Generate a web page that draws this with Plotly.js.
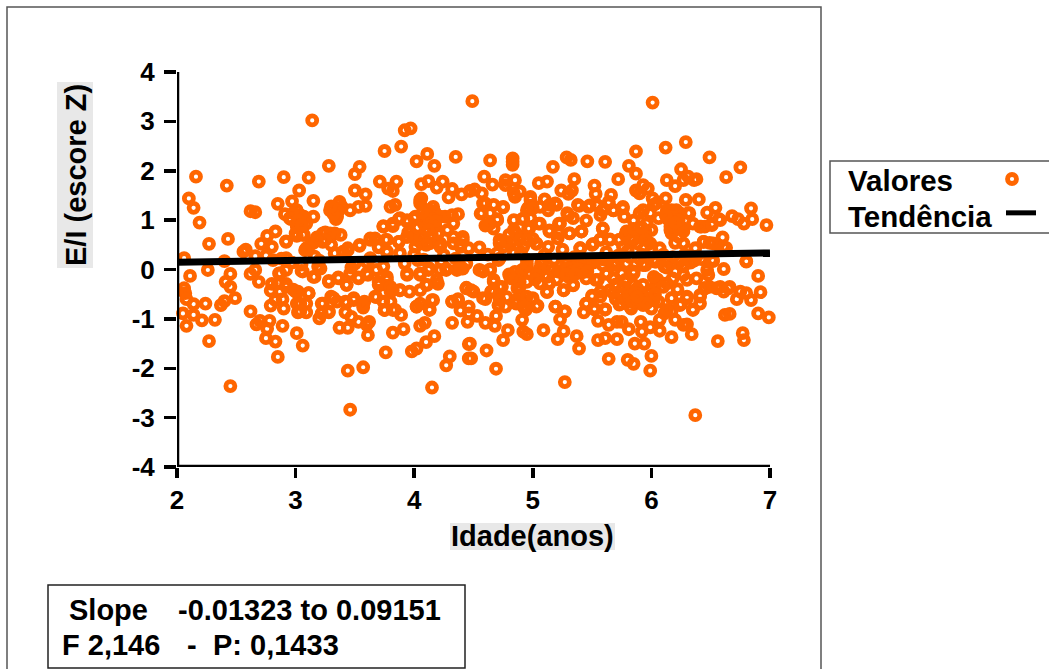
<!DOCTYPE html>
<html><head><meta charset="utf-8">
<script src="https://cdn.plot.ly/plotly-3.0.1.min.js"></script>
<style>html,body{margin:0;padding:0;background:#fff;overflow:hidden}#c{width:1049px;height:669px}</style>
</head><body><div id="c"></div>
<script>
const agesUpperLeft=[2.16,2.10,2.14,2.19,2.27,2.43,2.42,2.69,3.14,2.90,3.11,3.03,3.28,3.54,3.50,3.50,3.59,3.75,3.89,3.92,3.97,4.02,4.11,4.17,4.35,3.71,3.85,3.78,3.82,4.06,4.12,4.19,4.24,4.32,4.29,4.40,4.47,3.15,2.97,2.85,2.62,2.66,3.30,3.37,3.39,3.46,3.53,3.59,3.80,3.84,4.06,4.05,4.16,2.91,2.96,3.01,3.07,3.15,3.01,3.09,3.34,3.74,3.82,3.87,3.94,4.01,4.09,4.18,4.26,4.32,4.37,4.33,2.83,2.76,2.71,2.80,2.92,3.01,3.07,3.18,3.25,3.23,3.33,3.38,3.30,3.63,3.67,3.76,3.54,3.44,3.70,3.87,3.94,4.02,4.20,4.22,4.13,4.06,4.41,4.33,4.39,3.09,3.15,2.56,2.58,2.66,2.75,2.06,2.40,2.92,2.81,3.16,3.33,3.40,3.63,3.77,3.88,4.03,4.25,4.46,4.10,4.15,4.28,3.95,4.00,3.60,3.50,3.20,3.05,2.88,2.97,3.92,4.08,4.23,4.35,4.44];
const scoresUpperLeft=[1.88,1.44,1.25,0.95,0.52,0.62,1.70,1.78,3.02,1.87,1.86,1.60,2.10,2.08,1.93,1.60,1.52,2.40,2.49,2.82,2.86,2.19,2.34,2.10,2.28,1.78,1.78,1.64,1.59,1.73,1.79,1.66,1.78,1.63,1.46,1.52,1.59,1.39,1.38,1.33,1.18,1.16,1.24,1.37,1.27,1.20,1.27,1.29,1.27,1.31,1.44,1.34,1.27,1.12,1.02,0.90,0.70,1.07,1.20,0.93,1.02,0.88,0.88,1.02,0.97,1.07,0.93,0.88,1.07,1.10,1.12,0.93,0.77,0.68,0.52,0.46,0.57,0.68,1.07,0.65,0.75,0.56,0.73,0.70,0.50,0.63,0.63,0.60,0.48,0.43,0.45,0.56,0.66,0.60,0.73,0.53,0.53,0.53,0.66,0.53,0.50,0.43,0.54,0.36,0.40,0.27,0.28,0.23,0.17,0.23,0.19,0.26,0.33,0.36,0.23,0.36,0.33,0.19,0.29,0.43,0.78,0.70,0.80,0.75,0.30,0.15,0.12,0.18,0.10,0.22,0.14,0.12,0.20,0.15,0.22,0.12];
const agesUpperRight=[4.49,6.01,6.29,6.12,5.87,6.49,6.75,6.63,5.61,5.46,5.285,5.32,5.17,4.83,4.83,4.83,4.64,4.59,4.66,4.51,4.57,4.77,4.77,4.85,5.05,5.12,5.35,5.24,5.30,5.33,5.52,5.53,5.66,5.72,5.81,5.87,5.93,5.97,5.87,5.90,6.13,6.20,6.25,6.27,6.31,6.38,6.36,6.01,6.12,6.29,6.40,6.54,6.47,6.84,6.68,6.73,6.85,6.78,6.97,6.57,6.51,6.41,6.45,6.60,6.44,6.49,6.56,6.63,6.80,6.52,6.42,4.85,4.89,4.84,4.75,4.60,4.67,4.56,4.70,4.60,4.64,4.67,4.96,4.98,5.10,5.19,5.13,5.06,5.29,5.34,5.39,5.48,5.54,5.45,5.57,5.64,5.68,5.76,5.77,5.85,5.93,5.99,6.04,6.06,6.17,6.24,6.32,6.16,6.27,6.23,4.84,4.91,4.98,5.05,4.97,4.84,4.72,4.82,4.89,5.03,5.14,5.22,5.21,5.31,5.41,5.59,5.51,5.57,5.65,5.79,5.73,5.85,5.95,5.99,6.20,6.27,6.37,6.07,4.55,5.40,5.13,4.75,4.92,4.71,6.03,5.93,5.50,4.80,4.90,5.00,5.10,5.25,5.35,5.45,5.62,5.72,5.80,5.90,6.00,6.10,6.18,6.28,6.36,4.62,4.72,4.95,5.08,5.18,5.28,5.38,5.48,5.60,5.70,5.82,5.92,6.02,6.14,6.24,6.33];
const scoresUpperRight=[3.41,3.38,2.58,2.47,2.39,2.27,2.07,1.87,2.18,2.19,2.27,2.22,2.08,2.25,2.18,2.12,2.21,1.88,1.72,1.62,1.54,1.81,1.71,1.81,1.75,1.78,1.83,1.60,1.53,1.60,1.70,1.53,1.51,1.83,2.10,1.94,1.71,1.64,1.60,1.54,1.81,1.69,2.03,1.81,1.88,1.83,1.81,1.44,1.44,1.41,1.42,1.25,1.15,1.24,1.08,1.02,1.02,0.93,0.90,1.02,0.93,0.87,0.87,0.65,0.56,0.54,0.50,0.44,0.17,0.19,0.21,1.47,1.58,1.54,1.26,1.34,1.31,1.13,1.02,0.89,0.93,0.83,1.25,1.47,1.42,1.34,1.20,1.27,1.14,1.04,1.29,1.30,1.30,0.99,1.10,1.34,1.20,1.27,1.07,0.99,1.20,1.14,1.34,1.04,1.20,1.14,1.14,0.80,0.83,0.66,1.00,1.02,1.04,0.93,0.83,0.80,0.60,0.56,0.66,0.52,0.79,0.93,0.63,0.73,0.77,0.83,0.52,0.61,0.61,0.77,0.60,0.60,0.77,0.53,0.54,0.53,0.43,0.43,0.45,0.43,0.46,0.46,0.46,0.19,0.17,0.11,0.15,0.70,0.35,0.62,0.30,0.40,0.25,0.18,0.35,0.28,0.38,0.22,0.42,0.30,0.25,0.30,0.18,0.30,0.22,0.20,0.12,0.20,0.12,0.22,0.12,0.20,0.14,0.25,0.30,0.20,0.16,0.16,0.14];
const agesLowerLeft=[2.11,2.26,2.06,2.07,2.08,2.14,2.24,2.05,2.14,2.21,2.32,2.08,2.27,2.45,2.41,2.45,2.49,2.40,2.37,2.45,2.62,2.62,2.66,2.69,2.80,2.79,2.86,2.85,2.92,2.87,2.83,2.89,2.79,2.90,2.67,2.70,2.78,2.76,2.89,2.75,2.83,2.85,3.01,3.06,3.06,3.16,3.28,3.36,3.43,3.19,2.98,3.02,3.11,3.01,3.09,3.02,3.09,3.23,3.28,3.22,3.20,3.30,3.35,3.43,3.49,3.42,3.47,3.37,3.44,3.53,3.62,3.60,3.61,3.58,3.57,3.44,3.57,3.46,4.15,3.76,3.82,3.91,3.98,4.02,4.10,4.17,4.05,4.09,4.13,4.16,4.02,4.05,3.89,3.82,3.75,3.68,3.80,3.74,3.88,3.96,4.11,4.20,3.94,4.05,3.53,3.46,3.61,3.70,3.77,3.80,4.32,4.37,4.39,4.46,4.45,4.32,4.46,4.46,4.30,4.27,4.44,4.36,4.22,4.13,4.27,4.41];
const scoresLowerLeft=[-0.13,-0.01,-0.38,-0.48,-0.60,-0.70,-0.69,-0.89,-0.92,-1.03,-1.02,-1.14,-1.45,-0.09,-0.25,-0.35,-0.58,-0.64,-0.72,-2.36,-0.85,-0.09,-0.01,-0.25,-0.29,-0.43,-0.08,-0.28,-0.29,-0.45,-0.62,-0.60,-0.73,-0.79,-1.11,-1.04,-1.04,-1.20,-1.14,-1.39,-1.46,-1.77,-1.29,-1.54,-0.04,-0.15,-0.25,-0.18,-0.31,0.06,-0.41,-0.45,-0.48,-0.69,-0.69,-0.87,-0.87,-0.69,-0.87,-0.89,-0.99,-0.55,-0.65,-0.67,-0.62,-0.87,-0.96,-1.18,-1.18,-1.06,-1.06,-1.12,-1.33,-0.65,-0.77,-2.05,-1.98,-2.84,-2.39,-1.68,-1.28,-1.21,-1.66,-1.60,-1.47,-1.35,-1.14,-1.08,-0.81,-0.62,-0.75,-0.69,-0.92,-0.82,-0.82,-0.56,-0.65,-0.48,-0.42,-0.45,-0.31,-0.29,-0.11,-0.11,-0.16,-0.08,-0.11,-0.25,-0.21,-0.45,-0.65,-0.60,-0.83,-0.89,-1.06,-1.08,-1.51,-1.80,-1.76,-1.94,-0.37,-0.01,-0.01,0.02,0.02,0.02];
const agesLowerRight=[6.37,5.27,4.69,5.99,6.00,5.85,5.80,5.64,5.39,5.37,5.21,5.26,5.09,4.95,4.92,4.75,4.79,4.61,4.48,4.47,4.68,4.60,4.53,4.69,4.91,4.60,4.50,4.65,4.67,4.74,4.71,4.71,4.78,4.87,4.81,4.89,4.58,4.64,5.03,5.14,5.12,5.26,5.34,4.86,4.92,4.99,5.04,4.94,5.19,5.27,5.23,5.45,5.50,5.57,5.43,5.52,5.61,5.55,5.64,5.71,5.75,5.81,5.91,5.92,5.99,6.07,6.07,6.11,6.17,6.20,6.30,6.27,6.34,6.17,5.55,5.61,5.71,5.86,5.94,6.56,6.77,6.78,6.62,6.66,6.90,6.99,6.92,6.90,6.61,6.84,6.72,6.75,6.80,6.66,6.61,6.55,6.45,6.48,6.41,6.41,6.35,6.30,6.25,6.17,6.06,6.00,5.92,5.83,5.73,5.68,5.79,5.86,5.99,6.13,6.04,5.93,5.85,5.78,5.68,5.62,5.53,5.75,5.85,5.93,6.04,6.13,6.20,6.27,6.27,6.38,6.52,6.80,5.31,5.40,5.21,4.95,5.07,5.51,5.59,5.68,5.79,5.10,5.20,5.30,5.45,5.70,5.90,6.05,6.22];
const scoresLowerRight=[-2.95,-2.28,-2.01,-2.05,-1.75,-1.91,-1.83,-1.81,-1.60,-1.35,-1.41,-1.25,-1.23,-1.31,-1.26,-1.43,-1.23,-1.64,-1.80,-1.50,-1.14,-1.08,-0.94,-0.94,-1.02,-0.60,-0.45,-0.45,-0.25,-0.35,-0.52,-0.72,-0.56,-0.38,-0.15,-0.25,-0.04,0.00,-0.09,-0.27,-0.46,-0.42,-0.31,-0.69,-0.62,-0.60,-0.73,-0.82,-0.75,-0.85,-1.01,-0.69,-0.53,-0.45,-0.87,-0.81,-0.81,-1.04,-1.12,-1.06,-1.06,-1.21,-1.06,-1.26,-1.17,-1.24,-1.02,-0.89,-0.85,-1.02,-1.11,-1.12,-1.31,-1.37,-1.43,-1.39,-1.41,-1.50,-1.50,-1.45,-1.29,-1.43,-0.92,-0.90,-0.89,-0.97,-0.46,-0.13,0.01,-0.62,-0.60,-0.45,-0.48,-0.35,-0.45,-0.38,-0.38,-0.11,-0.55,-0.69,-0.81,-0.55,-0.70,-0.58,-0.65,-0.79,-0.69,-0.79,-0.71,-0.48,-0.55,-0.55,-0.48,-0.28,-0.28,-0.31,-0.31,-0.25,-0.18,-0.09,-0.21,-0.08,-0.04,0.09,0.16,0.04,-0.04,0.09,-0.11,-0.18,0.17,0.16,-0.01,-0.04,-0.04,0.06,0.12,0.14,0.09,0.09,0.12,-0.12,-0.20,-0.15,-0.18,-0.30,-0.45,-0.20,-0.40];
const agesCoreA=[3.37,3.35,3.29,3.04,2.98,3.08,2.95,3.01,3.06,3.00,2.92,3.23,3.29,3.25,3.18,3.11,3.08,3.33,3.44,3.54,3.63,3.70,3.77,3.77,4.05,4.12,4.17,4.08,4.13,4.22,4.00,3.94,3.88,3.74,3.82,3.87,3.94,4.05,4.10,4.22,4.20,4.01,4.33,4.41,4.39,4.57,4.64,4.70,4.62,4.75,4.58,4.72,4.78,4.86,4.92,4.89,4.70,4.84];
const scoresCoreA=[1.34,1.07,1.20,1.10,1.14,1.04,1.04,0.87,0.70,0.73,0.56,0.73,0.73,0.60,0.60,0.46,0.39,0.33,0.39,0.50,0.60,0.46,0.36,0.60,1.41,1.20,1.17,0.93,0.93,1.07,1.04,1.00,1.04,0.87,0.93,0.56,0.66,0.66,0.50,0.46,0.73,0.46,0.66,0.60,0.46,1.14,1.14,1.00,0.90,1.27,1.34,0.53,0.56,0.73,1.03,0.60,0.33,0.33];
const agesCoreB=[2.92,2.87,3.05,3.15,3.21,3.28,3.36,3.43,3.53,3.47,3.60,3.68,3.74,3.77,3.70,3.80,3.88,3.94,4.05,4.12,4.19,4.27,4.39,4.55,4.64,4.67,4.81,4.91,4.89,4.67,4.72,4.44,4.48,2.92,3.00,3.11,3.04,3.04,3.22,3.28,3.32,3.42,3.49,3.57,3.67,3.74,3.82,3.75,3.84,4.02,4.13,4.15,4.05,4.10,4.32,4.37,4.46,4.58,4.65,4.72,4.86,4.92,4.77];
const scoresCoreB=[-0.01,-0.08,-0.03,-0.15,0.02,-0.23,-0.16,-0.31,-0.18,0.04,-0.08,-0.01,0.06,-0.15,-0.31,-0.35,-0.42,-0.08,-0.08,-0.01,-0.21,-0.01,0.02,-0.01,-0.01,-0.21,-0.15,-0.01,-0.35,-0.45,-0.35,-0.38,-0.42,-0.35,-0.45,-0.48,-0.69,-0.85,-0.69,-0.85,-0.58,-0.65,-0.58,-0.72,-0.55,-0.65,-0.42,-0.82,-0.82,-0.75,-0.82,-0.62,-0.42,-0.31,-0.65,-0.62,-0.75,-0.58,-0.45,-0.62,-0.62,-0.75,-0.75];
const agesCoreC=[4.98,4.95,5.00,5.14,5.20,5.30,5.23,5.06,4.96,5.14,5.31,5.41,5.22,5.03,4.95,5.40,5.50,5.57,5.65,5.73,5.81,5.88,5.95,6.00,5.88,5.76,5.68,5.76,5.90,5.96,6.02,6.13,6.21,6.31,6.16,6.24,6.17,6.27,6.35,6.42,6.51,6.58,6.44,6.52,6.61,5.59,5.59,5.54,5.38,5.47,5.64];
const scoresCoreC=[1.41,1.20,1.24,1.31,1.31,1.10,0.93,0.93,0.83,0.77,0.73,0.77,0.73,0.53,0.60,0.43,0.50,0.60,0.60,0.60,0.77,0.73,0.73,0.80,0.53,0.46,1.20,1.24,1.14,0.93,1.31,1.20,1.20,1.14,0.87,0.87,0.73,0.77,0.93,0.87,0.90,1.00,0.56,0.53,0.46,0.83,1.20,1.31,1.31,1.27,1.37];
const agesCoreD=[4.95,4.98,5.06,5.17,5.26,5.34,5.43,5.51,5.55,5.62,5.68,5.78,5.85,5.95,6.03,6.02,6.11,6.27,6.38,6.51,6.30,6.18,6.47,6.49,6.58,6.65,6.45,6.10,5.99,5.88,5.76,5.65,5.57,5.50,5.45,5.52,5.61,5.74,5.82,5.93,6.02,6.17,6.24,6.30,6.35,6.41,6.13,5.26,5.14,5.12,5.34,5.03,4.95,5.00,5.03,5.19,5.27,4.93];
const scoresCoreD=[0.12,-0.08,0.02,-0.01,-0.08,0.02,-0.01,0.16,-0.21,-0.08,-0.18,-0.21,-0.08,0.09,0.16,-0.15,0.06,0.06,0.26,0.19,-0.21,-0.18,-0.01,-0.35,-0.35,-0.38,-0.38,-0.35,-0.42,-0.38,-0.35,-0.42,-0.55,-0.55,-0.69,-0.79,-0.81,-0.69,-0.75,-0.72,-0.62,-0.58,-0.72,-0.58,-0.82,-0.52,-0.82,-0.42,-0.28,-0.45,-0.32,-0.11,-0.55,-0.58,-0.75,-0.75,-0.85,-0.75];
const agesCoreE=[5.75,5.80,5.86,5.92,5.97,6.03,5.78,5.84,5.90,5.96,5.70,5.88,5.24,5.29,5.33,5.38,5.42,5.46,5.28,5.36,5.84,5.90,5.95,5.78,5.85,5.92,6.14,6.19,6.23,6.12,6.20,4.10,4.15,4.07,4.18,4.03,4.12,3.36,3.32,3.30,3.02,3.05,4.85,4.88,4.82,4.80,4.95,5.02,5.06,5.12];
const scoresCoreE=[-0.50,-0.55,-0.48,-0.52,-0.60,-0.50,-0.62,-0.66,-0.62,-0.68,-0.60,-0.55,-0.03,0.03,-0.05,0.01,-0.06,-0.04,-0.10,-0.09,0.62,0.66,0.60,0.70,0.82,0.85,1.02,1.06,1.00,1.10,0.95,1.10,1.02,1.15,0.98,0.85,0.80,1.18,1.12,1.28,1.00,0.90,-0.05,-0.12,-0.18,-0.10,-0.25,-0.20,-0.28,-0.15];
const trendAges=[2,7];
const trendScores=[0.145,0.335];
const xTickValues=[2,3,4,5,6,7];
const yTickValues=[-4,-3,-2,-1,0,1,2,3,4];
const yTickLabels=['-4','-3','-2','-1','0','1','2','3','4'];

const W=1049,H=669,fam='"Liberation Sans",Arial,sans-serif',orange='#ff6600';
const px=v=>v/W, py=v=>1-v/H;
const rect=(x0,y0,x1,y1,opt)=>Object.assign({type:'rect',xref:'paper',yref:'paper',x0:px(x0),x1:px(x1),y0:py(y1),y1:py(y0),layer:'below'},opt);
const note=(x,y,text,size,opt)=>Object.assign({xref:'paper',yref:'paper',x:px(x),y:py(y),text,showarrow:false,xanchor:'left',yanchor:'middle',borderpad:0,font:{family:fam,size,color:'#000',weight:700}},opt||{});
const grayLine={line:{color:'#555',width:1.5},fillcolor:'rgba(0,0,0,0)'};
const regions=[[agesUpperLeft,scoresUpperLeft],[agesUpperRight,scoresUpperRight],[agesLowerLeft,scoresLowerLeft],[agesLowerRight,scoresLowerRight],[agesCoreA,scoresCoreA],[agesCoreB,scoresCoreB],[agesCoreC,scoresCoreC],[agesCoreD,scoresCoreD],[agesCoreE,scoresCoreE]];
const ages=[],scores=[];
regions.forEach(([a,s])=>{const n=Math.min(a.length,s.length);ages.push(...a.slice(0,n));scores.push(...s.slice(0,n));});
const ring={symbol:'circle-open',size:9,color:orange,line:{color:orange,width:4.8}};
const tickFont={family:fam,size:26,color:'#000',weight:700};
const axisBase={tickmode:'array',ticks:'outside',tickwidth:3.5,tickcolor:'#000',showline:false,showgrid:false,zeroline:false,tickfont:tickFont,automargin:false};
const axisLine=(x0,y0,x1,y1)=>({type:'line',xref:'x',yref:'y',x0,y0,x1,y1,layer:'above',line:{color:'#000',width:4.5}});
const data=[
 {type:'scatter',mode:'markers',name:'Valores',x:ages,y:scores,marker:ring,cliponaxis:false,hoverinfo:'x+y',showlegend:false},
 {type:'scatter',mode:'lines',name:'Tendência',x:trendAges,y:trendScores,line:{color:'#000',width:7},cliponaxis:false,showlegend:false},
 {type:'scatter',mode:'markers',x:[0.4],y:[0.75],xaxis:'x2',yaxis:'y2',marker:ring,showlegend:false,hoverinfo:'skip'},
 {type:'scatter',mode:'lines',x:[0.28,0.88],y:[0.28,0.28],xaxis:'x2',yaxis:'y2',line:{color:'#000',width:5},showlegend:false,hoverinfo:'skip'}
];
const layout={
 width:W,height:H,paper_bgcolor:'#fff',plot_bgcolor:'rgba(0,0,0,0)',showlegend:false,
 margin:{l:0,r:0,t:0,b:0,pad:0},
 font:{family:fam,color:'#000'},
 xaxis:Object.assign({},axisBase,{domain:[177/W,770/W],range:[2,7],tickvals:xTickValues,ticktext:xTickValues.map(String),anchor:'y',ticklen:10}),
 yaxis:Object.assign({},axisBase,{domain:[1-467/H,1-72/H],range:[-4,4],tickvals:yTickValues,ticktext:yTickLabels,anchor:'x',ticklen:12,ticklabelstandoff:4}),
 xaxis2:{domain:[992/W,1042/W],range:[0,1],anchor:'y2',visible:false,fixedrange:true},
 yaxis2:{domain:[1-233/H,1-161/H],range:[0,1],anchor:'x2',visible:false,fixedrange:true},
 shapes:[
  rect(7,7,821,680,grayLine),
  rect(830,161,1060,233,grayLine),
  rect(48,585,465,668,{line:{color:'#222',width:1.5},fillcolor:'#fff',layer:'above'}),
  rect(450,523,615,550,{line:{width:0},fillcolor:'#e8e8e8'}),
  rect(57,82,93,268,{line:{width:0},fillcolor:'#e8e8e8'}),
  axisLine(1.983,-4,7.012,-4),
  axisLine(2,-4,2,4)
 ],
 annotations:[
  note(532,536,'Idade(anos)',29,{xanchor:'center'}),
  note(76,175,'E/I (escore Z)',29,{xanchor:'center',textangle:-90}),
  note(847,180,'Valores',29.5),
  note(847,216,'Tendência',29.5),
  note(68,610,'Slope',29),
  note(177,610,'-0.01323 to 0.09151',29),
  note(61,645,'F 2,146',29),
  note(186,645,'-',29),
  note(212,645,'P: 0,1433',29)
 ]
};
Plotly.newPlot('c',data,layout,{displayModeBar:false,staticPlot:true});
</script></body></html>
